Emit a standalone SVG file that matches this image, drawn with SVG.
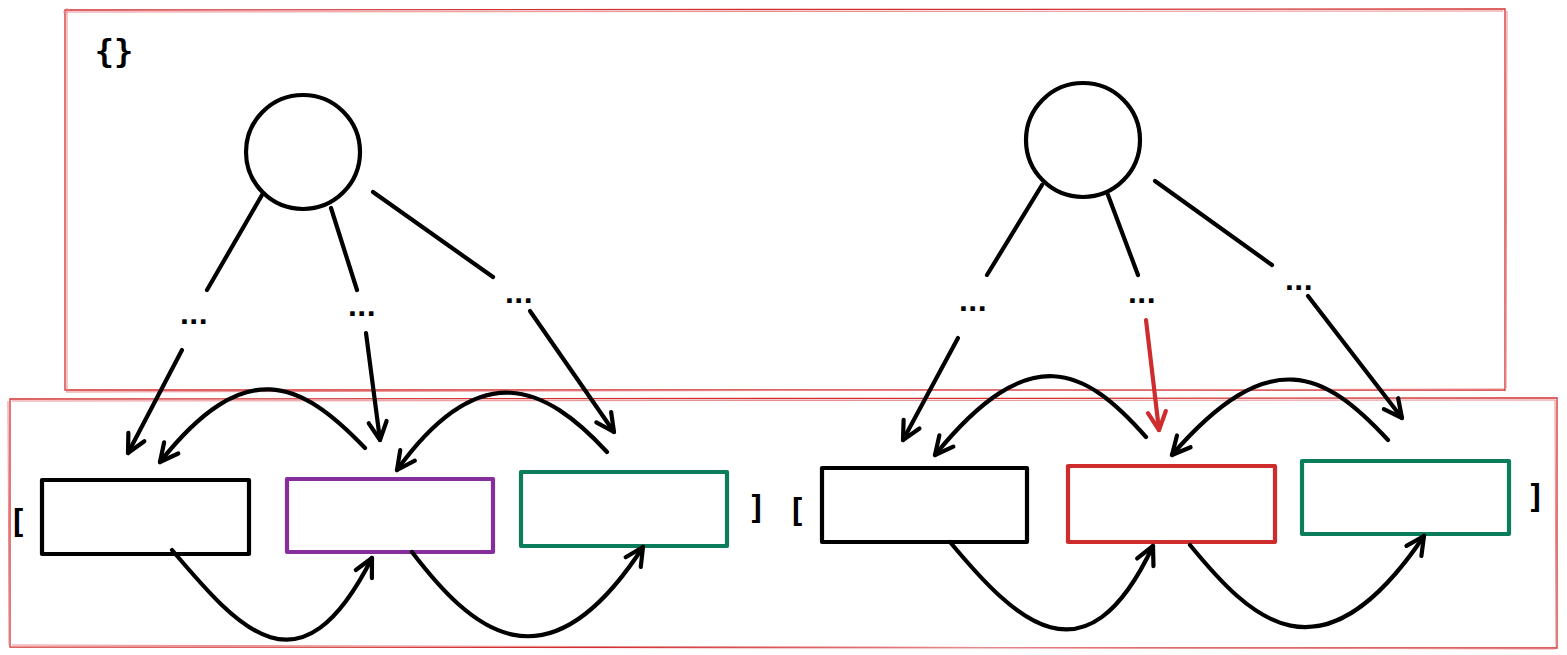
<svg xmlns="http://www.w3.org/2000/svg" width="1567" height="655" viewBox="0 0 1567 655">
<style>
.frame{fill:none;stroke:#d32f2f;stroke-width:1.3}
.frame2{fill:none;stroke:#e88a8e;stroke-width:1}
.node{fill:none;stroke:#000;stroke-width:4.2;stroke-linejoin:round;stroke-linecap:round}
.rect{fill:none;stroke-width:4.2;stroke-linejoin:round}
.blk{stroke:#000}
.pur{stroke:#862e9c}
.grn{stroke:#0b7d5a}
.red{stroke:#cf2d2d}
.edge{fill:none;stroke:#000;stroke-width:4.2;stroke-linecap:round;stroke-linejoin:round}
.redge{fill:none;stroke:#cf2d2d;stroke-width:4.2;stroke-linecap:round}
.dots{font-family:"Liberation Sans",Arial,sans-serif;font-weight:bold;font-size:32px;letter-spacing:0.5px;fill:#000;text-anchor:middle}
.br{font-family:"DejaVu Sans Mono","Liberation Mono",monospace;font-weight:bold;font-size:32px;fill:#000;text-anchor:middle}
</style>
<defs>
<marker id="ah" viewBox="-24 -14 30 28" refX="0" refY="0" markerWidth="30" markerHeight="28" markerUnits="userSpaceOnUse" orient="auto">
<path d="M-18,-9 L0,0 L-18,9" fill="none" stroke="#000" stroke-width="4.2" stroke-linecap="round" stroke-linejoin="round"/>
</marker>
<marker id="ahr" viewBox="-24 -14 30 28" refX="0" refY="0" markerWidth="30" markerHeight="28" markerUnits="userSpaceOnUse" orient="auto">
<path d="M-18,-9 L0,0 L-18,9" fill="none" stroke="#cf2d2d" stroke-width="4.2" stroke-linecap="round" stroke-linejoin="round"/>
</marker>
</defs>
<rect width="1567" height="655" fill="#fff"/>

<g id="frame-top">
<path class="frame" d="M65,10 L1505,9 L1505,390 L65,390 Z"/>
<path class="frame2" d="M63,12 L1503,11 M67,8 L67,392 M1507,11 L1506,388 M66,392 L1504,389"/>
</g>
<g id="frame-bottom">
<path class="frame" d="M10,399 L1557,398 L1557,648 L10,647 Z"/>
<path class="frame2" d="M12,401 L1555,400 M8,401 L9,645 M1555,400 L1556,646 M12,645 L1555,649"/>
</g>

<g id="braces"><text class="br" x="114" y="62" font-size="34">{}</text></g>

<g id="tree-left-root"><circle class="node" cx="303" cy="152" r="57"/></g>
<g id="tree-right-root"><circle class="node" cx="1083" cy="140" r="57"/></g>

<g id="dots-l1"><text class="dots" x="194" y="324">...</text></g>
<g id="dots-l2"><text class="dots" x="362" y="316">...</text></g>
<g id="dots-l3"><text class="dots" x="519" y="303">...</text></g>
<g id="dots-r1"><text class="dots" x="973" y="311">...</text></g>
<g id="dots-r2"><text class="dots" x="1142" y="303">...</text></g>
<g id="dots-r3"><text class="dots" x="1299" y="290">...</text></g>

<g id="bracket-l-open"><text class="br" x="18" y="532">[</text></g>
<g id="list-l-1"><rect class="rect blk" x="42" y="480" width="207" height="74"/></g>
<g id="list-l-2"><rect class="rect pur" x="287" y="479" width="206" height="73"/></g>
<g id="list-l-3"><rect class="rect grn" x="521" y="472" width="206" height="74"/></g>
<g id="bracket-l-close"><text class="br" x="757" y="518">]</text></g>

<g id="bracket-r-open"><text class="br" x="797" y="521">[</text></g>
<g id="list-r-1"><rect class="rect blk" x="822" y="468" width="205" height="74"/></g>
<g id="list-r-2"><rect class="rect red" x="1068" y="466" width="207" height="76"/></g>
<g id="list-r-3"><rect class="rect grn" x="1302" y="461" width="207" height="73"/></g>
<g id="bracket-r-close"><text class="br" x="1536" y="507">]</text></g>

<g id="connectors">
<path class="edge" d="M262,195 L207,290"/>
<path class="edge" d="M182,350 L128,453" marker-end="url(#ah)"/>
<path class="edge" d="M331,208 L357,290"/>
<path class="edge" d="M366,333 L380,440" marker-end="url(#ah)"/>
<path class="edge" d="M373,192 L493,277"/>
<path class="edge" d="M530,311 L614,432" marker-end="url(#ah)"/>

<path class="edge" d="M1042,185 L987,275"/>
<path class="edge" d="M958,338 L903,440" marker-end="url(#ah)"/>
<path class="edge" d="M1108,195 L1138,275"/>
<path class="redge" d="M1146,320 L1159,430" marker-end="url(#ahr)"/>
<path class="edge" d="M1155,181 L1272,265"/>
<path class="edge" d="M1308,296 L1402,418" marker-end="url(#ah)"/>

<path class="edge" d="M365,448 C300,380 245,355 160,462" marker-end="url(#ah)"/>
<path class="edge" d="M607,452 C545,385 480,355 397,470" marker-end="url(#ah)"/>
<path class="edge" d="M172,550 C240,630 300,700 372,558" marker-end="url(#ah)"/>
<path class="edge" d="M412,552 C470,628 545,698 643,547" marker-end="url(#ah)"/>

<path class="edge" d="M1146,437 C1085,368 1030,338 935,455" marker-end="url(#ah)"/>
<path class="edge" d="M1388,440 C1325,372 1270,342 1172,455" marker-end="url(#ah)"/>
<path class="edge" d="M950,542 C1015,620 1085,690 1153,546" marker-end="url(#ah)"/>
<path class="edge" d="M1190,545 C1250,618 1320,690 1424,536" marker-end="url(#ah)"/>
</g>
</svg>
